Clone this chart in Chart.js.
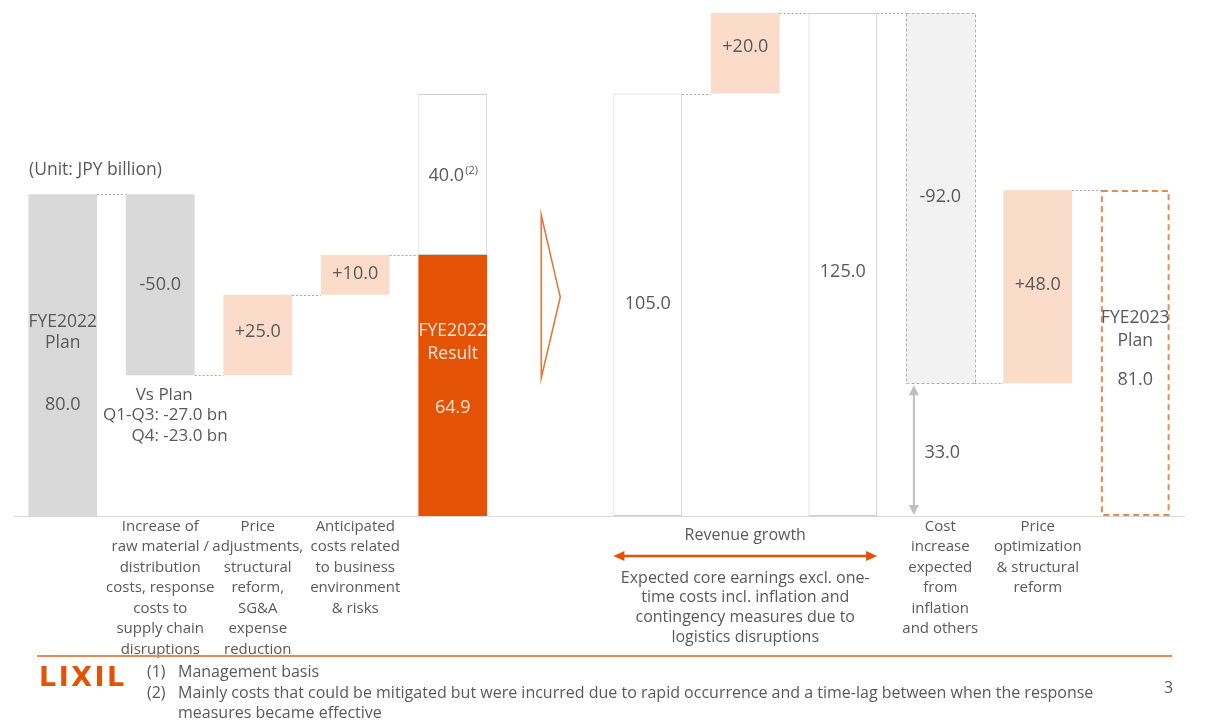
<!DOCTYPE html>
<html>
<head>
<meta charset="utf-8">
<script src="https://cdn.jsdelivr.net/npm/chart.js@4.4.1/dist/chart.umd.min.js"></script>
<style>
html,body{margin:0;padding:0;background:#fff;}
#wrap{position:relative;width:1205px;height:722px;overflow:hidden;font-family:'Open Sans',sans-serif;color:#595959;}
#c{position:absolute;left:0;top:0;}
.unit{position:absolute;left:29px;top:156px;font-size:17.5px;line-height:24px;white-space:nowrap;}
.rule{position:absolute;left:37px;top:655px;width:1135px;height:2px;background:#E38A5A;}
.logo{position:absolute;left:39px;top:661px;font-family:'DejaVu Sans',sans-serif;font-weight:bold;font-size:27px;line-height:32px;color:#E35205;letter-spacing:2.5px;}
.fnum{position:absolute;left:147px;top:661px;font-size:16px;line-height:20.5px;}
.ftxt{position:absolute;left:178px;top:661px;font-size:16px;line-height:20.5px;white-space:nowrap;}
.page{position:absolute;left:1164px;top:677px;font-size:16px;line-height:20px;}
</style>
</head>
<body>
<div id="wrap">
<canvas id="c" width="1205" height="722"></canvas>
<div class="unit">(Unit: JPY billion)</div>
<div class="rule"></div>
<div class="logo">LIXIL</div>
<div class="fnum">(1)<br>(2)</div>
<div class="ftxt">Management basis<br>Mainly costs that could be mitigated but were incurred due to rapid occurrence and a time-lag between when the response<br>measures became effective</div>
<div class="page">3</div>
</div>
<script>
// ---------- data ----------
const categories = ['FYE2022 Plan','Raw material / distribution','Price adjustments','Anticipated costs','FYE2022 Result','arrow','Core earnings','Revenue growth','Core earnings incl. growth','Cost increase','Price optimization','FYE2023 Plan'];
const barStart = [0, 35, 35, 55, 0, null, 0, 105, 0, 33, 33, 0];
const barEnd   = [80, 80, 55, 64.9, 64.9, null, 105, 125, 125, 125, 81, 81];
const unmitigatedStart = [null, null, null, null, 64.9, null, null, null, null, null, null, null];
const unmitigatedEnd   = [null, null, null, null, 104.9, null, null, null, null, null, null, null];
const valueLabels = ['80.0','-50.0','+25.0','+10.0','64.9','','105.0','+20.0','125.0','-92.0','+48.0','81.0'];
const unmitigatedLabel = '40.0';
const gapLabel = '33.0';
const tickLabels = [
  '',
  ['Increase of','raw material /','distribution','costs, response','costs to','supply chain','disruptions'],
  ['Price','adjustments,','structural','reform,','SG&A','expense','reduction'],
  ['Anticipated','costs related','to business','environment','& risks'],
  '', '', '', '', '',
  ['Cost','increase','expected','from','inflation','and others'],
  ['Price','optimization','& structural','reform'],
  ''
];
const revenueTitle = 'Revenue growth';
const revenueNote = ['Expected core earnings excl. one-','time costs incl. inflation and','contingency measures due to','logistics disruptions'];
const vsPlanLines = ['Vs Plan','Q1-Q3: -27.0 bn','Q4: -23.0 bn'];

// ---------- styles ----------
const GRAY='#D9D9D9', PEACH='#FBDCCB', ORANGE='#E35205', WHITE='#FFFFFF', LIGHT='#F2F2F2';
const TXT='#595959';
const fills = [GRAY, GRAY, PEACH, PEACH, ORANGE, 'rgba(0,0,0,0)', WHITE, PEACH, WHITE, LIGHT, PEACH, 'rgba(0,0,0,0)'];
const borderW = [0,0,0,0,0,0,1,0,1,0,0,0];
const connectors = [[0,1,80],[1,2,35],[2,3,55],[3,4,64.9],[6,7,105],[7,8,125],[8,9,125],[9,10,33],[10,11,81]];

const F = '"Open Sans", sans-serif';
function txt(ctx, s, x, y, size, color, align){
  ctx.save();
  ctx.font = size + 'px ' + F;
  ctx.fillStyle = color || TXT;
  ctx.textAlign = align || 'center';
  ctx.textBaseline = 'middle';
  ctx.fillText(s, x, y);
  ctx.restore();
}

const overlay = {
  id: 'overlay',
  afterDatasetsDraw(chart){
    const ctx = chart.ctx, xs = chart.scales.x, ys = chart.scales.y;
    const meta = chart.getDatasetMeta(0);
    const B = i => meta.data[i].getProps(['x','y','base','width'], true);
    const Y = v => ys.getPixelForValue(v);
    const L = i => { const b=B(i); return b.x - b.width/2; };
    const R = i => { const b=B(i); return b.x + b.width/2; };

    // connectors
    ctx.save();
    ctx.strokeStyle = '#A6A6A6'; ctx.lineWidth = 1; ctx.setLineDash([2,2]);
    connectors.forEach(([a,b,v]) => {
      const y = Math.round(Y(v)) + 0.5;
      ctx.beginPath(); ctx.moveTo(R(a), y); ctx.lineTo(L(b), y); ctx.stroke();
    });
    ctx.restore();

    // dotted border for cost increase bar
    ctx.save();
    let b = B(9);
    ctx.strokeStyle = '#B0B0B0'; ctx.lineWidth = 1; ctx.setLineDash([3,2]);
    ctx.strokeRect(Math.round(b.x - b.width/2)+0.5, Math.round(b.y)+0.5, Math.round(b.width), Math.round(b.base - b.y));
    ctx.restore();

    // dashed orange border for FYE2023 plan
    ctx.save();
    b = B(11);
    ctx.strokeStyle = '#E8894F'; ctx.lineWidth = 2; ctx.setLineDash([6,4]);
    ctx.strokeRect(b.x - b.width/2 + 1, b.y + 1, b.width - 2, b.base - b.y - 2);
    ctx.restore();

    // chevron arrow
    ctx.save();
    const cx = xs.getPixelForValue(5);
    ctx.strokeStyle = '#E07B3F'; ctx.lineWidth = 1.6;
    ctx.beginPath();
    ctx.moveTo(cx - 9, Y(74.8)); ctx.lineTo(cx + 10, Y(54.4)); ctx.lineTo(cx - 9, Y(34.3)); ctx.closePath();
    ctx.stroke();
    ctx.restore();

    // gap double arrow
    ctx.save();
    const ax = L(9) + 8, ay1 = Y(33) + 2, ay2 = Y(0) - 1;
    ctx.strokeStyle = '#BFBFBF'; ctx.fillStyle = '#BFBFBF'; ctx.lineWidth = 2;
    ctx.beginPath(); ctx.moveTo(ax, ay1 + 8); ctx.lineTo(ax, ay2 - 8); ctx.stroke();
    ctx.beginPath(); ctx.moveTo(ax, ay1); ctx.lineTo(ax - 5, ay1 + 10); ctx.lineTo(ax + 5, ay1 + 10); ctx.closePath(); ctx.fill();
    ctx.beginPath(); ctx.moveTo(ax, ay2); ctx.lineTo(ax - 5, ay2 - 10); ctx.lineTo(ax + 5, ay2 - 10); ctx.closePath(); ctx.fill();
    ctx.restore();

    // value labels
    const S = 18, N = 17.5;
    txt(ctx, 'FYE2022', B(0).x, Y(48.2), N);
    txt(ctx, 'Plan', B(0).x, Y(43.1), N);
    txt(ctx, valueLabels[0], B(0).x, Y(27.6), S);
    txt(ctx, valueLabels[1], B(1).x, Y(57.4), S);
    txt(ctx, vsPlanLines[0], B(1).x + 4, Y(30.1), 17);
    txt(ctx, vsPlanLines[1], R(1) + 33, Y(25.1), 17, TXT, 'right');
    txt(ctx, vsPlanLines[2], R(1) + 33, Y(19.9), 17, TXT, 'right');
    txt(ctx, valueLabels[2], B(2).x, Y(45.7), S);
    txt(ctx, valueLabels[3], B(3).x, Y(60.2), S);
    // 40.0 with superscript
    ctx.save();
    ctx.font = S + 'px ' + F; const w1 = ctx.measureText(unmitigatedLabel).width;
    ctx.font = '11px ' + F; const w2 = ctx.measureText('(2)').width;
    ctx.restore();
    const sx = B(4).x - (w1 + w2)/2;
    txt(ctx, unmitigatedLabel, sx, Y(84.5), S, TXT, 'left');
    txt(ctx, '(2)', sx + w1 + 1, Y(84.5) - 5, 11, TXT, 'left');
    const WT = '#FCE8DA';
    txt(ctx, 'FYE2022', B(4).x, Y(46.0), N, WT);
    txt(ctx, 'Result', B(4).x, Y(40.3), N, WT);
    txt(ctx, valueLabels[4], B(4).x, Y(26.8), S, WT);
    txt(ctx, valueLabels[6], B(6).x, Y(52.7), S);
    txt(ctx, valueLabels[7], B(7).x, Y(116.6), S);
    txt(ctx, valueLabels[8], B(8).x, Y(60.7), S);
    txt(ctx, valueLabels[9], B(9).x, Y(79.3), S);
    txt(ctx, gapLabel, B(9).x + 2, Y(15.7), S);
    txt(ctx, valueLabels[10], B(10).x, Y(57.4), S);
    txt(ctx, 'FYE2023', B(11).x, Y(49.2), N);
    txt(ctx, 'Plan', B(11).x, Y(43.5), N);
    txt(ctx, valueLabels[11], B(11).x, Y(33.8), S);

    // revenue growth annotation
    const bottom = chart.chartArea.bottom;
    const rx1 = L(6), rx2 = R(8), rcx = (rx1 + rx2)/2;
    txt(ctx, revenueTitle, rcx, bottom + 19, 16);
    ctx.save();
    ctx.strokeStyle = ORANGE; ctx.fillStyle = ORANGE; ctx.lineWidth = 2.5;
    const ry = bottom + 40;
    ctx.beginPath(); ctx.moveTo(rx1 + 6, ry); ctx.lineTo(rx2 - 6, ry); ctx.stroke();
    ctx.beginPath(); ctx.moveTo(rx1, ry); ctx.lineTo(rx1 + 11, ry - 5); ctx.lineTo(rx1 + 11, ry + 5); ctx.closePath(); ctx.fill();
    ctx.beginPath(); ctx.moveTo(rx2, ry); ctx.lineTo(rx2 - 11, ry - 5); ctx.lineTo(rx2 - 11, ry + 5); ctx.closePath(); ctx.fill();
    ctx.restore();
    revenueNote.forEach((s, k) => txt(ctx, s, rcx, bottom + 62 + k*19.8, 16));
  }
};

new Chart(document.getElementById('c'), {
  type: 'bar',
  data: {
    labels: tickLabels,
    datasets: [
      {
        label: 'Operating profit',
        data: barStart.map((s, i) => s === null ? null : [s, barEnd[i]]),
        backgroundColor: fills,
        borderColor: '#CFCFCF',
        borderWidth: borderW,
        borderSkipped: false,
        grouped: false,
        categoryPercentage: 1,
        barPercentage: 0.705,
        order: 2
      },
      {
        label: 'Unmitigated costs',
        data: unmitigatedStart.map((s, i) => s === null ? null : [s, unmitigatedEnd[i]]),
        backgroundColor: WHITE,
        borderColor: '#CFCFCF',
        borderWidth: 1,
        borderSkipped: false,
        grouped: false,
        categoryPercentage: 1,
        barPercentage: 0.705,
        order: 1
      }
    ]
  },
  options: {
    responsive: false,
    animation: false,
    events: [],
    layout: { padding: { left: 14, right: 21, top: 1, bottom: 0 } },
    plugins: { legend: { display: false }, tooltip: { enabled: false }, title: { display: false } },
    scales: {
      x: {
        grid: { display: false, drawTicks: false },
        border: { display: true, color: '#D9D9D9', width: 1 },
        ticks: { autoSkip: false, maxRotation: 0, minRotation: 0, padding: 0, color: TXT, font: { family: 'Open Sans', size: 15, lineHeight: 1.37 } },
        afterFit: (scale) => { scale.height = 206; }
      },
      y: { display: false, min: 0, max: 128 }
    }
  },
  plugins: [overlay]
});
</script>
</body>
</html>
